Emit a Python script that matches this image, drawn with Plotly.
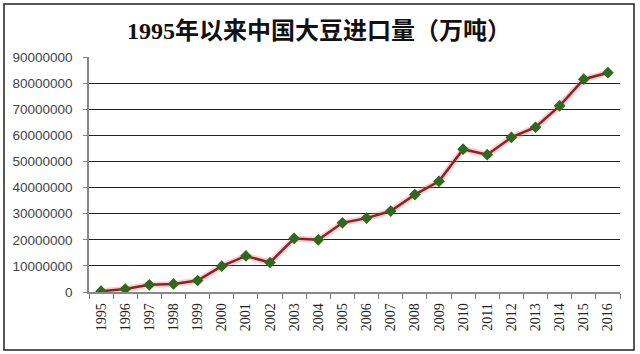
import plotly.graph_objects as go

years = [str(y) for y in range(1995, 2017)]
imports = [300000, 1150000, 2750000, 3100000, 4400000, 9900000, 13800000, 11300000,
           20500000, 20000000, 26500000, 28300000, 31000000, 37300000, 42400000,
           54700000, 52600000, 59200000, 63100000, 71300000, 81500000, 84000000]
y_ticks = list(range(0, 90000001, 10000000))
title_text = "1995年以来中国大豆进口量（万吨）"

W, H = 640, 354
L, R, T, B = 89, 620, 57, 292

def px_x(x):
    return (x - L) / (R - L)

def px_y(y):
    return (B - y) / (B - T)

fig = go.Figure()
# soft glow under the line
fig.add_trace(go.Scatter(x=years, y=imports, mode="lines",
                         line=dict(color="rgba(255,110,110,0.35)", width=6),
                         hoverinfo="skip", showlegend=False))
fig.add_trace(go.Scatter(x=years, y=imports, mode="lines+markers",
                         line=dict(color="#8B2424", width=2.5),
                         marker=dict(symbol="diamond", size=9, color="#2E6A1E",
                                     line=dict(width=0)),
                         showlegend=False))

fig.update_layout(
    width=W, height=H,
    margin=dict(l=L, r=W - R, t=T, b=H - B),
    paper_bgcolor="white", plot_bgcolor="white",
    title=dict(text=title_text, xref="container", x=319 / W, xanchor="center",
               yref="container", y=1 - 31 / H, yanchor="middle",
               font=dict(family="Liberation Serif, Noto Sans CJK SC", size=24,
                         color="#111", weight="bold")),
    shapes=[dict(type="rect", xref="paper", yref="paper",
                 x0=px_x(4), x1=px_x(634), y0=px_y(350), y1=px_y(4),
                 line=dict(color="#222", width=1.5), layer="below")],
)

fig.update_xaxes(type="category", categoryorder="array", categoryarray=years,
                 range=[-0.5, len(years) - 0.5],
                 tickangle=-90, tickson="boundaries", ticks="outside", ticklen=5,
                 tickcolor="#777", showline=True, linecolor="#888", linewidth=1.5,
                 showgrid=False, ticklabelstandoff=4,
                 tickfont=dict(family="Liberation Serif", size=14, color="#222"))
fig.update_yaxes(range=[0, 90000000], tickvals=y_ticks, tickformat="d",
                 showgrid=True, gridcolor="#222", gridwidth=1,
                 zeroline=False, showline=True, linecolor="#888", linewidth=1.5,
                 ticks="outside", ticklen=4, tickcolor="#888",
                 ticklabelstandoff=8,
                 tickfont=dict(family="Liberation Sans", size=13.5, color="#444"))

fig.write_html("out.html")
